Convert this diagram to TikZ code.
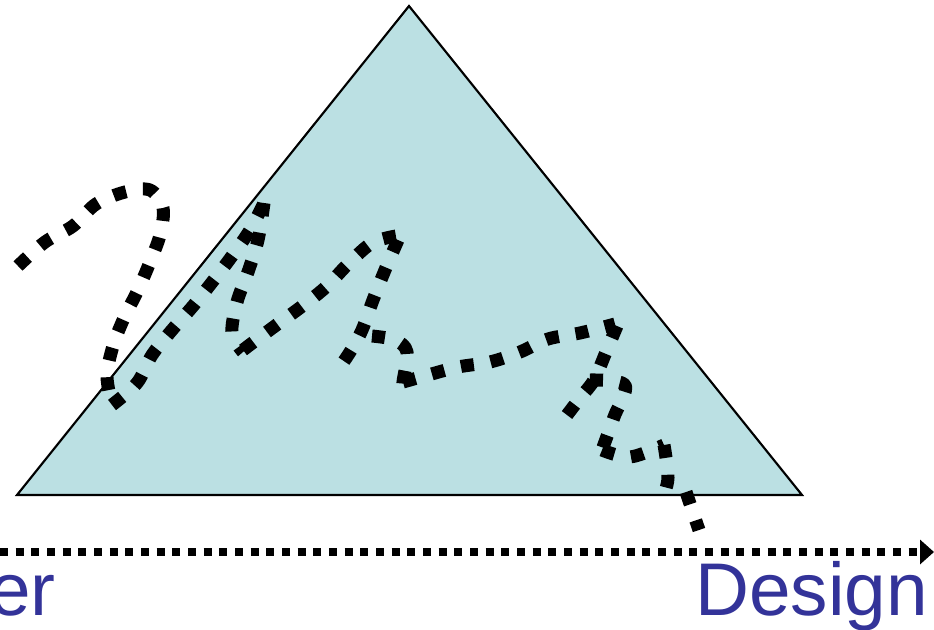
\documentclass[tikz,border=0pt]{standalone}
\usepackage{fontspec}
\setmainfont{Liberation Sans}
\usepackage{tikz}
\usetikzlibrary{arrows.meta}
\definecolor{sheet}{RGB}{187,224,227}
\definecolor{labelblue}{RGB}{51,51,153}
\tikzset{
  % ---- shapes -----------------------------------------------------------
  tri/.style={fill=sheet, draw=black, line width=1.6pt, line join=miter},
  % ---- the wandering path -----------------------------------------------
  scribble/.style={draw=black, line width=9.75pt, line cap=butt, line join=round,
                   dash pattern=on 9.75pt off 12.75pt},
  % ---- axis -------------------------------------------------------------
  axis/.style={draw=black, line width=6pt, dash pattern=on 6pt off 5.75pt,
               -{Triangle[length=10.5pt,width=18pt]}},
  % ---- labels -----------------------------------------------------------
  lbl/.style={font=\fontsize{56}{60}\selectfont, text=labelblue, inner sep=0pt},
}
\begin{document}
\begin{tikzpicture}[x=0.75pt,y=-0.75pt]
\useasboundingbox (0,0) rectangle (934,629);

% ---- triangle ---------------------------------------------------------------
\coordinate (apex) at (409,6);
\coordinate (lc) at (17,495);
\coordinate (rc) at (802,495);
\path[tri] (apex) -- (lc) -- (rc) -- cycle;

% ---- scribble ---------------------------------------------------------------
\draw[scribble] plot[smooth,tension=.55] coordinates
  {(18,266) (45,242) (73,226) (96,204) (125,192) (150,190) (163,208) (160,235)
   (150,262) (138,290) (124,318) (113,346) (107,376) (112,405)};
\draw[scribble] plot[smooth,tension=.55] coordinates
  {(112,405) (137,383) (152,355) (172,330) (193,306) (213,281) (232,256) (250,230) (264,203)};
\draw[scribble] plot[smooth,tension=.55] coordinates
  {(264,203) (258,240) (248,272) (237,302) (232,333) (243,352)};
\draw[scribble] plot[smooth,tension=.55] coordinates
  {(243,350) (275,326) (301,307) (326,287) (348,264) (372,243) (396,236)};
\draw[scribble] plot[smooth,tension=.55] coordinates
  {(398,240) (385,270) (373,300) (362,330) (350,352) (335,374)};
\draw[scribble] plot[smooth,tension=.55] coordinates
  {(372,336) (395,340) (407,352) (403,382) (402,398)};
\draw[scribble] plot[smooth,tension=.55] coordinates
  {(403,382) (428,375) (458,367) (490,362) (520,352) (548,339) (580,333) (615,324)};
\draw[scribble] plot[smooth,tension=.55] coordinates
  {(617,326) (606,352) (594,380) (580,398) (567,415)};
\draw[scribble] plot[smooth,tension=.55] coordinates
  {(590,380) (625,385) (614,417) (602,450)};
\draw[scribble] plot[smooth,tension=.55] coordinates
  {(602,450) (630,457) (664,445)};
\draw[scribble] plot[smooth,tension=.55] coordinates
  {(664,445) (668,478) (662,500)};
\draw[scribble] (686,492) -- (699,530);

% ---- axis -------------------------------------------------------------------
\coordinate (axL) at (0,552);
\coordinate (axR) at (934,552);
\draw[axis] (axL) -- (axR);

% ---- labels -----------------------------------------------------------------
\node[lbl, anchor=base east] (er) at (56,615) {er};
\node[lbl, anchor=base east] (design) at (928,615) {Design};

\end{tikzpicture}
\end{document}
